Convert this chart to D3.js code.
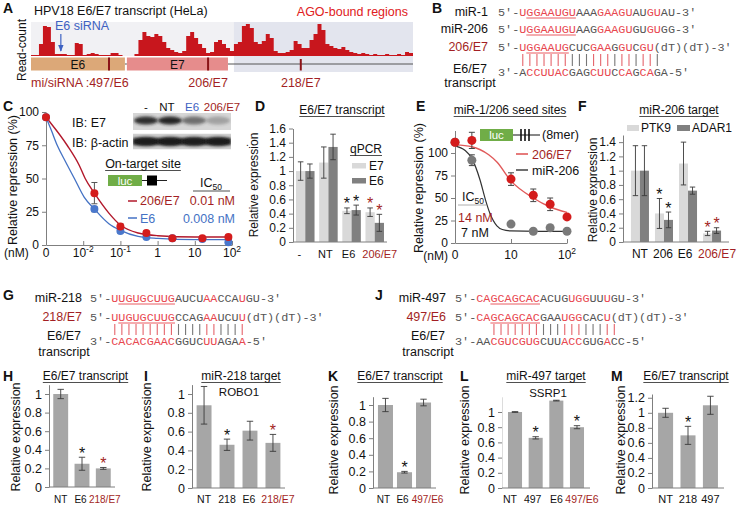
<!DOCTYPE html>
<html><head><meta charset="utf-8">
<script src="https://cdn.jsdelivr.net/npm/d3@7"></script>
<style>
body{margin:0;background:#fff;}
#fig{font-family:"Liberation Sans",Arial,sans-serif;}
</style></head><body>
<svg id="fig" width="740" height="509" xmlns="http://www.w3.org/2000/svg"></svg>
<script>
// ================= DATA =================
// Panel A: AGO CLIP read coverage along HPV18 E6/E7 transcript (bins)
const coverage = [1,1,12,30,29,14,2,2,2,1, 1,13,12,1,2,3,2,1,1,1, 3,3,1,0,0,0,2,16,24,20,
  19,22,20,14,8,6,4,3,5,20, 24,18,12,8,3,4,14,16,12,8, 5,12,14,30,32,28,14,12,15,22,
  18,5,3,3,4,6,15,12,8,8, 16,22,32,26,12,10,8,7,9,6, 4,3,2,3,2,1,2,1,1,2, 1,1,2,1,4,3];
const geneNames = ["E6","E7"];
const geneStart = [0, 24.1];
const geneEnd = [23.6, 49.5];
const transcriptEnd = 96;
const agoRegionStart = 51;
const siteLabels = ["497/E6","206/E7","218/E7"];
const sitePos = [19.6, 44.5, 67.8];
const e6SiRNAPos = 7.5;

// Panel B sequences: [text, colour(r/g), underline]
const seqMiR1 = [["5′-","g"],["U","r"],["GGAAUGU","r",1],["AAA","g"],["GAAGU","r"],["AU","g"],["GU","r"],["AU","g"],["-3′","g"]];
const seqMiR206 = [["5′-","g"],["U","r"],["GGAAUGU","r",1],["AAG","g"],["GAAGU","r"],["GU","g"],["GU","r"],["GG","g"],["-3′","g"]];
const seq206E7 = [["5′-","g"],["U","r"],["GGAAUG","r",1],["CUC","g"],["GAA","r"],["G","g"],["GU","r"],["C","g"],["GU","r"],["(dT)(dT)-3′","g"]];
const seqTransB = [["3′-","g"],["A","g"],["CCUUAC","r"],["GAG","g"],["CUU","r"],["C","g"],["CA","r"],["G","g"],["CA","r"],["GA","g"],["-5′","g"]];
const pairsB = "rrrrrrrgggrrrgrrgrrg";
// Panel G
const seqMiR218 = [["5′-","g"],["U","r"],["UGUGCUUG","r",1],["AUCU","g"],["AA","r"],["CCA","g"],["U","r"],["GU","g"],["-3′","g"]];
const seq218E7 = [["5′-","g"],["U","r"],["UGUGCUUG","r",1],["CCAG","g"],["AA","r"],["UCU","g"],["U","r"],["(dT)(dT)-3′","g"]];
const seqTransG = [["3′-","g"],["CACACGAAC","r"],["GGUC","g"],["UU","r"],["AGA","g"],["A","r"],["-5′","g"]];
const pairsG = "rrrrrrrrrggggrrgggr";
// Panel J
const seqMiR497 = [["5′-","g"],["CA","r"],["GCAGCAC","r",1],["ACUG","g"],["UGG","r"],["UU","g"],["U","r"],["GU","g"],["-3′","g"]];
const seq497E6 = [["5′-","g"],["CA","r"],["GCAGCAC","r",1],["GAA","g"],["UGG","r"],["CAC","g"],["U","r"],["(dT)(dT)-3′","g"]];
const seqTransJ = [["3′-","g"],["AA","g"],["CGUCGUG","r"],["CUU","g"],["ACC","r"],["GUG","g"],["A","r"],["CC","g"],["-5′","g"]];
const pairsJ = "rrrrrrrgggrrrgggrr";

// Panel C: dose response (nM) on-target site
const concC = [0, 0.02, 0.1, 0.5, 2.5, 16, 80];
const rep206E7 = [96, 39, 14, 9, 5, 5, 6];
const rep206E7Err = [0, 8, 2, 1.5, 1, 1, 1.2];
const repE6 = [96, 27, 10.5, 6, 5, 4.5, 2];
const repE6Err = [0, 2, 1.5, 1, 1, 1, 1];
const fit206E7 = [[0,96],[0.0014,91],[0.0037,75],[0.0078,60],[0.0113,50],[0.02,39],[0.049,24],[0.1,15],[0.3,9],[1,7],[10,6],[100,6]];
const fitE6 = [[0,96],[0.0014,86],[0.002,75],[0.0033,63],[0.0058,50],[0.0106,36],[0.02,27],[0.049,16],[0.1,11],[0.3,6.5],[1,5],[10,4],[100,4]];
const ticksC = ["0","10|-2","10|-1","1","10","10|2"];
const tickValsC = [0, 0.01, 0.1, 1, 10, 100];
const blotLanes = ["-","NT","E6","206/E7"];
const blotE7 = [0.9, 0.95, 0.55, 0.28];
const blotActin = [0.95, 0.95, 0.9, 0.95];

// Panel D
const catsD = ["-","NT","E6","206/E7"];
const dE7 = [1.0, 1.12, 0.44, 0.42];
const dE7Err = [0.13, 0.22, 0.04, 0.06];
const dE6 = [1.0, 1.34, 0.45, 0.27];
const dE6Err = [0.1, 0.18, 0.07, 0.12];
const dStars = ["", "", "k", "r"];

// Panel E
const concE = [0, 2, 10, 25, 50, 100];
const eRep206E7 = [112, 114, 71, 53, 43, 29];
const eRep206E7Err = [2, 9, 7, 7, 7, 2];
const eRepMiR206 = [112, 92, 21, 13, 17, 13];
const eRepMiR206Err = [2, 6, 2, 1, 1, 1];
const eFit206E7 = [[1,109],[2,107],[4,98],[5.6,90],[10,69],[25,50],[50,40],[100,34]];
const eFitMiR206 = [[1,108],[1.5,103],[2,94],[2.8,70],[3.5,48],[4.2,33],[5.6,19],[7,15],[10,13.5],[30,13],[100,13]];

// Panel F
const catsF = ["NT","206","E6","206/E7"];
const fPTK9 = [1.0, 0.40, 1.10, 0.12];
const fPTK9Err = [0.35, 0.21, 0.30, 0.03];
const fADAR1 = [1.0, 0.31, 0.72, 0.16];
const fADAR1Err = [0.35, 0.11, 0.05, 0.04];
const fStars = ["", "k", "", "r"];

// Panels H, I, K, L, M
const catsH = ["NT","E6","218/E7"]; const valsH = [1.0, 0.25, 0.20]; const errsH = [0.05, 0.07, 0.01]; const starsH = ["","k","r"];
const catsI = ["NT","218","E6","218/E7"]; const valsI = [0.88, 0.46, 0.61, 0.48]; const errsI = [0.2, 0.06, 0.1, 0.09]; const starsI = ["","k","","r"];
const catsK = ["NT","E6","497/E6"]; const valsK = [1.0, 0.19, 1.03]; const errsK = [0.08, 0.01, 0.04]; const starsK = ["","k",""];
const catsL = ["NT","497","E6","497/E6"]; const valsL = [1.0, 0.66, 1.15, 0.80]; const errsL = [0.005, 0.015, 0.005, 0.02]; const starsL = ["","k","","k"];
const catsM = ["NT","218","497"]; const valsM = [1.0, 0.70, 1.10]; const errsM = [0.06, 0.12, 0.12]; const starsM = ["","k",""];

// ================= DRAW =================
const svg = d3.select("#fig");
const DARKRED = "#a31f24", RED = "#d41c1c", BLUE = "#4472c4", SEQRED = "#e8474f", SEQGRAY = "#555";
const AXIS = "#7f7f7f";
const SANS = '"Liberation Sans",Arial,sans-serif';
const MONO = '"Liberation Mono","Courier New",monospace';
const defs = svg.append("defs");
defs.append("filter").attr("id","blur").attr("x","-50%").attr("y","-50%").attr("width","200%").attr("height","200%")
  .append("feGaussianBlur").attr("stdDeviation", 1.6);
const mk = defs.append("marker").attr("id","arrowB").attr("viewBox","0 0 10 10").attr("refX",9).attr("refY",5)
  .attr("markerWidth",6).attr("markerHeight",6).attr("orient","auto");
mk.append("path").attr("d","M0,1 L10,5 L0,9 z").attr("fill","#3e62c2");

function txt(g, x, y, s, o = {}) {
  const t = g.append("text").attr("x", x).attr("y", y).text(s)
    .attr("font-size", o.size || 12).attr("fill", o.fill || "#111")
    .attr("text-anchor", o.anchor || "start").attr("font-family", o.family || SANS);
  if (o.weight) t.attr("font-weight", o.weight);
  return t;
}
function vtxt(g, cx, cy, s, size) {
  return g.append("text").attr("transform", `translate(${cx},${cy}) rotate(-90)`)
    .attr("text-anchor", "middle").attr("font-size", size || 12.5).attr("fill", "#111").attr("font-family", SANS).text(s);
}
function title(g, cx, y, s, size) {
  const t = txt(g, cx, y, s, {size: size || 12, anchor: "middle"});
  const w = t.node().getComputedTextLength();
  g.append("line").attr("x1", cx - w/2).attr("x2", cx + w/2).attr("y1", y + 2.5).attr("y2", y + 2.5)
    .attr("stroke", "#222").attr("stroke-width", 0.8);
}
function letter(x, y, s) { txt(svg, x, y, s, {size: 14, weight: "bold"}); }
function styleAxis(a, fs) {
  a.select(".domain").attr("stroke", AXIS);
  a.selectAll(".tick line").attr("stroke", AXIS);
  a.selectAll(".tick text").attr("font-size", fs || 12).attr("fill", "#111").attr("font-family", SANS);
}
const fmt = d => String(+d.toFixed(1));

// ---------- Panel A ----------
(function(){
  const g = svg.append("g");
  letter(3, 13, "A");
  txt(g, 34, 15, "HPV18  E6/E7 transcript (HeLa)", {size: 12.5});
  txt(g, 408, 16, "AGO-bound regions", {size: 12.5, fill: "#e02020", anchor: "end"});
  const x = d3.scaleLinear().domain([0, transcriptEnd]).range([31, 413]);
  const y = d3.scaleLinear().domain([0, 34]).range([56, 22]);
  g.append("rect").attr("x", x(0)).attr("y", 22).attr("width", x(agoRegionStart) - x(0)).attr("height", 34).attr("fill", "#f1f1f4");
  g.append("rect").attr("x", x(agoRegionStart)).attr("y", 22).attr("width", x(transcriptEnd) - x(agoRegionStart)).attr("height", 50).attr("fill", "#e3e5ee");
  const pts = coverage.concat([coverage[coverage.length-1]]);
  g.append("path").datum(pts)
    .attr("d", d3.area().x((d,i) => x(i)).y0(56).y1(d => y(d)).curve(d3.curveStepAfter))
    .attr("fill", "#c8161d");
  const gc = ["#dca878", "#e68c8c"];
  g.append("line").attr("x1", x(geneEnd[1])).attr("x2", x(transcriptEnd)).attr("y1", 64).attr("y2", 64).attr("stroke", "#555").attr("stroke-width", 1);
  g.append("line").attr("x1", x(geneEnd[0])).attr("x2", x(geneStart[1])).attr("y1", 64).attr("y2", 64).attr("stroke", "#555").attr("stroke-width", 1);
  geneNames.forEach((n, i) => {
    g.append("rect").attr("x", x(geneStart[i])).attr("y", 57.5).attr("width", x(geneEnd[i]) - x(geneStart[i])).attr("height", 13).attr("fill", gc[i]);
    txt(g, (x(geneStart[i]) + x(geneEnd[i])) / 2, 68.5, n, {size: 12, anchor: "middle"});
  });
  sitePos.forEach((p, i) => {
    g.append("line").attr("x1", x(p)).attr("x2", x(p)).attr("y1", i === 2 ? 59 : 57.5).attr("y2", 70.5).attr("stroke", "#8b1418").attr("stroke-width", 2);
    txt(g, x(p), 87, siteLabels[i], {size: 12.5, fill: DARKRED, anchor: "middle"});
  });
  txt(g, 31, 87, "mi/siRNA :", {size: 12.5, fill: DARKRED});
  txt(g, 55, 30, "E6 siRNA", {size: 12.5, fill: "#3e62c2"});
  g.append("line").attr("x1", x(e6SiRNAPos)).attr("x2", x(e6SiRNAPos)).attr("y1", 34).attr("y2", 51)
    .attr("stroke", "#3e62c2").attr("stroke-width", 1.2).attr("marker-end", "url(#arrowB)");
  vtxt(g, 26, 50, "Read-count", 12);
})();

// ---------- Sequence helpers ----------
const P = 7.08, SEQFS = 11.8;
function seqLine(g, x0, y, segs) {
  const t = g.append("text").attr("y", y).attr("font-family", MONO).attr("font-size", SEQFS);
  let i = 0;
  segs.forEach(([s, c, u]) => {
    t.append("tspan").attr("x", x0 + i * P).attr("fill", c === "r" ? SEQRED : SEQGRAY).text(s);
    if (u) g.append("line").attr("x1", x0 + i * P).attr("x2", x0 + (i + s.length) * P).attr("y1", y + 2).attr("y2", y + 2).attr("stroke", SEQRED).attr("stroke-width", 0.9);
    i += s.length;
  });
}
function pairBars(g, x0, y1, y2, startIdx, cols) {
  cols.split("").forEach((c, k) => {
    const cx = x0 + (startIdx + k + 0.5) * P;
    g.append("line").attr("x1", cx).attr("x2", cx).attr("y1", y1).attr("y2", y2)
      .attr("stroke", c === "r" ? "#e5646b" : "#777").attr("stroke-width", 1.1);
  });
}
function seqPanel(lx, sx, rowsY, names, seqs, pairs, pairStart, L) {
  const g = svg.append("g");
  names.forEach((n, i) => {
    txt(g, lx, rowsY[i], n[0], {size: 12.5, anchor: "end", fill: n[1] ? DARKRED : "#111"});
    seqLine(g, sx, rowsY[i], seqs[i]);
  });
  pairBars(g, sx, L.b1, L.b2, pairStart, pairs);
  txt(g, lx - 18, L.e6, "E6/E7", {size: 12.5, anchor: "middle"});
  txt(g, lx - 18, L.tr, "transcript", {size: 12.5, anchor: "middle"});
  seqLine(g, sx, L.seq, seqs[seqs.length - 1]);
}
// Panel B
letter(432, 13, "B");
seqPanel(488, 498, [16, 33, 51], [["miR-1"], ["miR-206"], ["206/E7", 1]], [seqMiR1, seqMiR206, seq206E7, seqTransB], pairsB, 3,
  {b1: 54, b2: 66, e6: 73, seq: 76, tr: 86.5});
// Panel G
letter(3, 300, "G");
seqPanel(82, 90, [302, 321], [["miR-218"], ["218/E7", 1]], [seqMiR218, seq218E7, seqTransG], pairsG, 3,
  {b1: 324, b2: 335, e6: 340, seq: 345, tr: 356});
// Panel J
letter(375, 300, "J");
seqPanel(446, 455, [302, 321], [["miR-497"], ["497/E6", 1]], [seqMiR497, seq497E6, seqTransJ], pairsJ, 5,
  {b1: 324, b2: 335, e6: 340, seq: 345, tr: 356});

// ---------- Panel C ----------
(function(){
  const g = svg.append("g");
  letter(3, 111, "C");
  const x = d3.scaleLog().domain([1e-3, 1e2]).range([46, 232]);
  const xc = c => x(c === 0 ? 1e-3 : c);
  const y = d3.scaleLinear().domain([0, 100]).range([245, 112]);
  const ay = g.append("g").attr("transform", "translate(46,0)").call(d3.axisLeft(y).tickValues([0,25,50,75,100]).tickSize(4).tickSizeOuter(0));
  styleAxis(ay, 12);
  const ax = g.append("g").attr("transform", "translate(0,245)").call(d3.axisBottom(x).tickValues([1e-3,1e-2,1e-1,1,10,100]).tickFormat("").tickSizeInner(-4).tickSizeOuter(0));
  styleAxis(ax);
  tickValsC.forEach((v, i) => {
    const [b, e] = ticksC[i].split("|");
    const t = g.append("text").attr("x", xc(v)).attr("y", 257).attr("text-anchor", "middle").attr("font-size", 12).attr("fill", "#111").attr("font-family", SANS).text(b);
    if (e) t.append("tspan").attr("dy", -5).attr("font-size", 8.5).text(e);
  });
  txt(g, 4, 257, "(nM)", {size: 12});
  vtxt(g, 16.5, 180, "Relative repression (%)", 12.5);
  const line = d3.line().x(d => xc(d[0])).y(d => y(d[1])).curve(d3.curveMonotoneX);
  g.append("path").attr("d", line(fit206E7)).attr("fill", "none").attr("stroke", "#b2182b").attr("stroke-width", 1.4);
  g.append("path").attr("d", line(fitE6)).attr("fill", "none").attr("stroke", BLUE).attr("stroke-width", 1.3);
  const drawPts = (vals, errs, col) => concC.forEach((c, i) => {
    if (errs[i] > 0) {
      g.append("line").attr("x1", xc(c)).attr("x2", xc(c)).attr("y1", y(vals[i] + errs[i])).attr("y2", y(vals[i] - errs[i])).attr("stroke", "#555");
      [vals[i] + errs[i], vals[i] - errs[i]].forEach(v => g.append("line").attr("x1", xc(c) - 3).attr("x2", xc(c) + 3).attr("y1", y(v)).attr("y2", y(v)).attr("stroke", "#555"));
    }
    g.append("circle").attr("cx", xc(c)).attr("cy", y(vals[i])).attr("r", 4).attr("fill", col);
  });
  drawPts(repE6, repE6Err, "#4a78cc");
  drawPts(rep206E7, rep206E7Err, RED);
  // blot
  const lx = d3.scaleBand().domain(blotLanes).range([133, 231]).padding(0.08);
  const lc = ["#111", "#111", "#3e62c2", DARKRED];
  const ldx = [0, -3, -2, 4];
  blotLanes.forEach((l, i) => txt(g, lx(l) + lx.bandwidth() / 2 + ldx[i], 111, l, {size: 11.5, anchor: "middle", fill: lc[i]}));
  const strips = [[113, 17, blotE7], [133.5, 16, blotActin]];
  strips.forEach(([sy, sh, inten], si) => {
    const cid = "clipblot" + si;
    defs.append("clipPath").attr("id", cid).append("rect").attr("x", 133).attr("y", sy).attr("width", 98).attr("height", sh);
    const sg = g.append("g").attr("clip-path", `url(#${cid})`);
    sg.append("rect").attr("x", 133).attr("y", sy).attr("width", 98).attr("height", sh).attr("fill", si === 0 ? "#d6d6d6" : "#cfcfcf");
    if (si === 1) sg.append("rect").attr("x", 133).attr("y", sy + sh/2 - 3.5).attr("width", 98).attr("height", 7).attr("fill", "#2a2a2a").attr("filter", "url(#blur)");
    blotLanes.forEach((l, i) => {
      sg.append("ellipse").attr("cx", lx(l) + lx.bandwidth() / 2).attr("cy", sy + sh / 2 - (si === 0 ? 1 : 0)).attr("rx", 12).attr("ry", si === 0 ? 4 : 4.2)
        .attr("fill", "#1a1a1a").attr("opacity", inten[i]).attr("filter", "url(#blur)");
    });
  });
  txt(g, 72, 127, "IB: E7", {size: 12.5});
  txt(g, 72, 147, "IB: β-actin", {size: 12.5});
  txt(g, 246, 146, ".", {size: 10});
  // legend
  title(g, 143, 168, "On-target site", 12.5);
  g.append("line").attr("x1", 142).attr("x2", 167).attr("y1", 180.5).attr("y2", 180.5).attr("stroke", "#222");
  g.append("rect").attr("x", 108).attr("y", 175).attr("width", 34).attr("height", 11).attr("fill", "#70ad47");
  txt(g, 125, 184.5, "luc", {size: 11.5, fill: "#fff", anchor: "middle"});
  g.append("rect").attr("x", 147).attr("y", 175.5).attr("width", 10).attr("height", 10).attr("fill", "#000");
  const ic = txt(g, 200, 187, "IC", {size: 12.5});
  ic.append("tspan").attr("dy", 3).attr("font-size", 8.5).text("50");
  g.append("line").attr("x1", 193).attr("x2", 230).attr("y1", 191).attr("y2", 191).attr("stroke", "#222").attr("stroke-width", 0.8);
  g.append("line").attr("x1", 128).attr("x2", 137).attr("y1", 201).attr("y2", 201).attr("stroke", "#b2182b").attr("stroke-width", 1.5);
  txt(g, 140, 205, "206/E7", {size: 12.5, fill: DARKRED});
  txt(g, 235, 205, "0.01 nM", {size: 12.5, fill: DARKRED, anchor: "end"});
  g.append("line").attr("x1", 128).attr("x2", 137).attr("y1", 218).attr("y2", 218).attr("stroke", BLUE).attr("stroke-width", 1.5);
  txt(g, 140, 223, "E6", {size: 12.5, fill: BLUE});
  txt(g, 235, 223, "0.008 nM", {size: 12.5, fill: BLUE, anchor: "end"});
})();

// ---------- Bar panel helper ----------
function barPanel(o) {
  const g = svg.append("g");
  const y = d3.scaleLinear().domain([0, o.ymax]).range([o.y0, o.yTop]);
  const xg = d3.scaleBand().domain(o.cats).range([o.x0, o.x1]).paddingInner(o.pi).paddingOuter(o.po);
  const xs = d3.scaleBand().domain(d3.range(o.series.length)).range([0, xg.bandwidth()]);
  o.series.forEach((s, si) => {
    o.cats.forEach((c, ci) => {
      const bx = xg(c) + xs(si), bw = xs.bandwidth(), v = s.vals[ci], e = s.errs[ci];
      g.append("rect").attr("x", bx).attr("y", y(v)).attr("width", bw).attr("height", o.y0 - y(v)).attr("fill", s.color);
      const cx = bx + bw / 2, cw = Math.min(3.2, bw * 0.3);
      g.append("line").attr("x1", cx).attr("x2", cx).attr("y1", y(v + e)).attr("y2", y(v - e)).attr("stroke", "#3a3a3a").attr("stroke-width", 0.9);
      [v + e, v - e].forEach(vv => g.append("line").attr("x1", cx - cw).attr("x2", cx + cw).attr("y1", y(vv)).attr("y2", y(vv)).attr("stroke", "#3a3a3a").attr("stroke-width", 0.9));
      const st = s.stars[ci];
      if (st) txt(g, cx, y(v + e) + 1.5, "*", {size: 16, anchor: "middle", fill: st === "r" ? DARKRED : "#111"});
    });
  });
  const ay = g.append("g").attr("transform", `translate(${o.x0},0)`)
    .call(d3.axisLeft(y).tickValues(o.ticks).tickFormat(fmt).tickSize(4).tickPadding(3).tickSizeOuter(0));
  styleAxis(ay, o.tfs || 12.5);
  if (o.faintAxis) ay.select(".domain").attr("stroke", "#dcdcdc");
  g.append("line").attr("x1", o.x0).attr("x2", o.x1).attr("y1", o.y0).attr("y2", o.y0).attr("stroke", AXIS);
  const dx = o.labelDx || o.cats.map(() => 0);
  o.cats.forEach((c, ci) => txt(g, xg(c) + xg.bandwidth() / 2 + dx[ci], o.labelY, c,
    {size: o.lfs || 11.5, anchor: "middle", fill: o.labelColors[ci] ? DARKRED : "#111"}));
  vtxt(g, o.ylx, o.yly, "Relative expression", o.ylfs || 12.5);
  if (o.title) title(g, o.title[0], o.title[1], o.title[2], 12);
  return g;
}

// ---------- Panel D ----------
letter(255, 111, "D");
(function(){
  const g = barPanel({cats: catsD, series: [
      {vals: dE7, errs: dE7Err, color: "#d9d9d9", stars: dStars},
      {vals: dE6, errs: dE6Err, color: "#808080", stars: dStars}],
    x0: 293, x1: 387, pi: 0.2, po: 0.13, y0: 242, yTop: 128.5, ymax: 1.6,
    ticks: [0,0.2,0.4,0.6,0.8,1,1.2,1.4,1.6], labelY: 258, labelColors: [0,0,0,1], lfs: 11, labelDx: [-6,-3,-3,5],
    ylx: 258, yly: 185, ylfs: 12, tfs: 12, title: [342, 114, "E6/E7 transcript"]});
  title(g, 366, 153, "qPCR", 12);
  g.append("rect").attr("x", 352).attr("y", 163).attr("width", 14).attr("height", 5.5).attr("fill", "#d9d9d9");
  txt(g, 369, 170, "E7", {size: 12});
  g.append("rect").attr("x", 352).attr("y", 178).attr("width", 14).attr("height", 5.5).attr("fill", "#808080");
  txt(g, 369, 185, "E6", {size: 12});
})();

// ---------- Panel E ----------
(function(){
  const g = svg.append("g");
  letter(416, 111, "E");
  title(g, 510, 114, "miR-1/206 seed sites", 12);
  const x = d3.scaleLog().domain([1, 100]).range([455, 567]);
  const xc = c => x(c === 0 ? 1 : c);
  const y = d3.scaleLinear().domain([0, 125]).range([243, 130.5]);
  const ay = g.append("g").attr("transform", "translate(455,0)").call(d3.axisLeft(y).tickValues([0,25,50,75,100]).tickSize(4).tickSizeOuter(0));
  styleAxis(ay, 12);
  const ax = g.append("g").attr("transform", "translate(0,243)").call(d3.axisBottom(x).tickValues([10,100]).tickFormat("").tickSizeInner(-4).tickSizeOuter(0));
  styleAxis(ax);
  txt(g, xc(0), 259, "0", {size: 12, anchor: "middle"});
  txt(g, x(10), 259, "10", {size: 12, anchor: "middle"});
  const t = txt(g, x(100), 259, "10", {size: 12, anchor: "middle"});
  t.append("tspan").attr("dy", -5).attr("font-size", 8.5).text("2");
  txt(g, 448, 260, "(nM)", {size: 12, anchor: "end"});
  vtxt(g, 422.5, 188, "Relative repression (%)", 12.5);
  const line = d3.line().x(d => x(d[0])).y(d => y(d[1])).curve(d3.curveMonotoneX);
  g.append("path").attr("d", line(eFit206E7)).attr("fill", "none").attr("stroke", "#e05a5a").attr("stroke-width", 1.4);
  g.append("path").attr("d", line(eFitMiR206)).attr("fill", "none").attr("stroke", "#333").attr("stroke-width", 1.2);
  const drawPts = (vals, errs, col) => concE.forEach((c, i) => {
    const cx = xc(c);
    g.append("line").attr("x1", cx).attr("x2", cx).attr("y1", y(vals[i] + errs[i])).attr("y2", y(vals[i] - errs[i])).attr("stroke", "#444");
    [vals[i] + errs[i], vals[i] - errs[i]].forEach(v => g.append("line").attr("x1", cx - 3).attr("x2", cx + 3).attr("y1", y(v)).attr("y2", y(v)).attr("stroke", "#444"));
    g.append("circle").attr("cx", cx).attr("cy", y(vals[i])).attr("r", 4.5).attr("fill", col);
  });
  drawPts(eRepMiR206, eRepMiR206Err, "#7a7a7a");
  drawPts(eRep206E7, eRep206E7Err, RED);
  // legend
  g.append("rect").attr("x", 480).attr("y", 129).attr("width", 33).attr("height", 12).attr("fill", "#70ad47");
  txt(g, 496.5, 139, "luc", {size: 11.5, fill: "#fff", anchor: "middle"});
  g.append("line").attr("x1", 513).attr("x2", 540).attr("y1", 135).attr("y2", 135).attr("stroke", "#111");
  [521, 525, 529].forEach(v => g.append("line").attr("x1", v).attr("x2", v).attr("y1", 129).attr("y2", 141).attr("stroke", "#111").attr("stroke-width", 1.6));
  txt(g, 542, 139, "(8mer)", {size: 12.5});
  g.append("line").attr("x1", 516).attr("x2", 528).attr("y1", 154).attr("y2", 154).attr("stroke", "#e05a5a").attr("stroke-width", 1.6);
  txt(g, 532, 158.5, "206/E7", {size: 12.5, fill: DARKRED});
  g.append("line").attr("x1", 516).attr("x2", 528).attr("y1", 170).attr("y2", 170).attr("stroke", "#333").attr("stroke-width", 1.4);
  txt(g, 532, 174.5, "miR-206", {size: 12.5});
  const ic = txt(g, 462, 201, "IC", {size: 12.5});
  ic.append("tspan").attr("dy", 3).attr("font-size", 8.5).text("50");
  g.append("line").attr("x1", 458).attr("x2", 486).attr("y1", 205).attr("y2", 205).attr("stroke", "#999").attr("stroke-width", 0.8);
  txt(g, 458, 222, "14 nM", {size: 12.5, fill: DARKRED});
  txt(g, 461, 237, "7 nM", {size: 12.5});
})();

// ---------- Panel F ----------
letter(578, 111, "F");
(function(){
  const g = barPanel({cats: catsF, series: [
      {vals: fPTK9, errs: fPTK9Err, color: "#d9d9d9", stars: fStars},
      {vals: fADAR1, errs: fADAR1Err, color: "#808080", stars: fStars}],
    x0: 623, x1: 729, pi: 0.25, po: 0.33, y0: 242, yTop: 135, ymax: 1.5,
    ticks: [0,0.2,0.4,0.6,0.8,1,1.2,1.4], labelY: 258, labelColors: [0,0,0,1], lfs: 12, labelDx: [0,-1,-3,5],
    ylx: 596.5, yly: 190, ylfs: 12, tfs: 12, title: [679, 114, "miR-206 target"]});
  g.append("rect").attr("x", 627).attr("y", 125).attr("width", 12).attr("height", 6).attr("fill", "#d9d9d9");
  txt(g, 641, 132, "PTK9", {size: 12});
  g.append("rect").attr("x", 677).attr("y", 125).attr("width", 13).attr("height", 6).attr("fill", "#808080");
  txt(g, 692, 132, "ADAR1", {size: 12});
})();

// ---------- Bottom panels ----------
const GRAYBAR = "#a6a6a6";
letter(3, 381, "H");
barPanel({cats: catsH, series: [{vals: valsH, errs: errsH, color: GRAYBAR, stars: starsH}],
  x0: 49, x1: 115, pi: 0.3, po: 0.2, y0: 487, yTop: 384.7, ymax: 1.1,
  ticks: [0,0.2,0.4,0.6,0.8,1], labelY: 503, labelColors: [0,0,1], lfs: 10, labelDx: [0,-1.5,1.5],
  ylx: 19.5, yly: 437, title: [85.5, 380, "E6/E7 transcript"]});
letter(144, 381, "I");
(function(){
  const g = barPanel({cats: catsI, series: [{vals: valsI, errs: errsI, color: GRAYBAR, stars: starsI}],
    x0: 192, x1: 285, pi: 0.35, po: 0.2, y0: 488, yTop: 384.6, ymax: 1.1,
    ticks: [0,0.2,0.4,0.6,0.8,1], labelY: 503, labelColors: [0,0,0,1], lfs: 10.5, labelDx: [0,0,-1,5],
    ylx: 150.5, yly: 437, title: [241, 380, "miR-218 target"]});
  txt(g, 239, 396, "ROBO1", {size: 11.5, anchor: "middle"});
})();
letter(328, 381, "K");
barPanel({cats: catsK, series: [{vals: valsK, errs: errsK, color: GRAYBAR, stars: starsK}],
  x0: 373, x1: 436, pi: 0.21, po: 0.26, y0: 488, yTop: 396.7, ymax: 1.1,
  ticks: [0,0.2,0.4,0.6,0.8,1], labelY: 503, labelColors: [0,0,1], lfs: 10, labelDx: [-2,-2,4],
  ylx: 337.5, yly: 440, title: [400, 380, "E6/E7 transcript"]});
letter(460, 381, "L");
(function(){
  const g = barPanel({cats: catsL, series: [{vals: valsL, errs: errsL, color: GRAYBAR, stars: starsL}],
    x0: 502, x1: 590, pi: 0.32, po: 0.29, y0: 488, yTop: 396.8, ymax: 1.2, faintAxis: true,
    ticks: [0,0.2,0.4,0.6,0.8,1], labelY: 503, labelColors: [0,0,0,1], lfs: 10.5, labelDx: [-5,-3,0,5],
    ylx: 468.5, yly: 440, title: [546, 380, "miR-497 target"]});
  txt(g, 548, 397, "SSRP1", {size: 11.5, anchor: "middle"});
})();
letter(611, 381, "M");
barPanel({cats: catsM, series: [{vals: valsM, errs: errsM, color: GRAYBAR, stars: starsM}],
  x0: 652, x1: 724, pi: 0.33, po: 0.27, y0: 488, yTop: 394, ymax: 1.25,
  ticks: [0,0.2,0.4,0.6,0.8,1,1.2], labelY: 503, labelColors: [0,0,0], lfs: 11,
  ylx: 624.5, yly: 440, title: [686, 380, "E6/E7 transcript"]});
</script></body></html>
